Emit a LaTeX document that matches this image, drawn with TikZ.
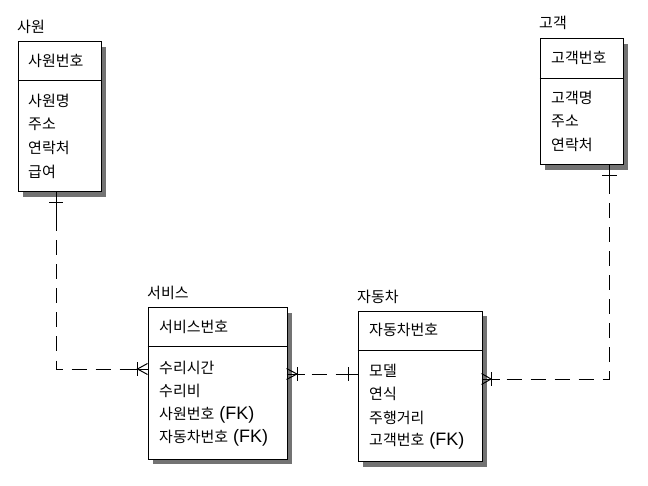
\documentclass[tikz,border=0pt]{standalone}
\usepackage{fontspec}
\setmainfont{Noto Sans CJK KR}
\newfontfamily\fkfont{Liberation Sans}
\usetikzlibrary{shadows}
\newcommand{\fk}{{\fkfont\fontsize{18}{18}\selectfont\ (FK)}}

\tikzset{
  entity/.style={draw, fill=white, line width=1pt, anchor=north west, inner sep=0pt,
    drop shadow={shadow xshift=5pt, shadow yshift=-5pt, fill=black!55, opacity=1}},
  txt/.style={anchor=west, inner sep=0pt, font=\fontsize{15}{15}\selectfont},
  rel/.style={line width=1pt, dash pattern=on 15pt off 9pt},
  endmark/.style={line width=1pt}
}

\begin{document}
\begin{tikzpicture}[x=1pt, y=-1pt]
  \useasboundingbox (0,0) rectangle (648,486);
  \node[entity, minimum width=83pt,  minimum height=150pt] (sawon)    at (17.5,41.5)  {};
  \node[entity, minimum width=83pt,  minimum height=126pt] (customer) at (539.5,38.5) {};
  \node[entity, minimum width=139pt, minimum height=151pt] (service)  at (147.5,307.5) {};
  \node[entity, minimum width=124pt, minimum height=150pt] (car)      at (357.5,311)  {};
  \draw[line width=1pt] (sawon.west |- 0,81) -- (sawon.east |- 0,81);
  \draw[line width=1pt] (customer.west |- 0,78.5) -- (customer.east |- 0,78.5);
  \draw[line width=1pt] (service.west |- 0,346.5) -- (service.east |- 0,346.5);
  \draw[line width=1pt] (car.west |- 0,350.5) -- (car.east |- 0,350.5);
  \node[txt] (sawon-t)  at (17,27)   {사원};
  \node[txt] (sawon-k)  at (28,61)   {사원번호};
  \node[txt] (sawon-a1) at (28,101)  {사원명};
  \node[txt] (sawon-a2) at (28,124.5) {주소};
  \node[txt] (sawon-a3) at (28,148)  {연락처};
  \node[txt] (sawon-a4) at (28,171.5) {급여};
  \node[txt] (customer-t)  at (539,23)  {고객};
  \node[txt] (customer-k)  at (551,58)  {고객번호};
  \node[txt] (customer-a1) at (551,98)  {고객명};
  \node[txt] (customer-a2) at (551,121.5) {주소};
  \node[txt] (customer-a3) at (551,145) {연락처};
  \node[txt] (service-t)  at (147,293)   {서비스};
  \node[txt] (service-k)  at (159,326.5) {서비스번호};
  \node[txt] (service-a1) at (159,367.5) {수리시간};
  \node[txt] (service-a2) at (159,391)   {수리비};
  \node[txt] (service-a3) at (159,414.5) {사원번호\fk};
  \node[txt] (service-a4) at (159,438)   {자동차번호\fk};
  \node[txt] (car-t)  at (357,297)   {자동차};
  \node[txt] (car-k)  at (369,330)   {자동차번호};
  \node[txt] (car-a1) at (369,370.5) {모델};
  \node[txt] (car-a2) at (369,394)   {연식};
  \node[txt] (car-a3) at (369,417.5) {주행거리};
  \node[txt] (car-a4) at (369,441)   {고객번호\fk};
  \draw[rel] (sawon.south -| 56,0) |- (service.west |- 0,369);
  \draw[rel] (service.east |- 0,374) -- (car.west |- 0,374);
  \draw[rel] (car.east |- 0,379) -| (customer.south -| 609.5,0);
  \draw[endmark] (56,191.5) -- (56,220);
  \draw[endmark] (49,203) -- (63,203);
  \draw[endmark] (129,369) -- (147.5,369);
  \draw[endmark] (137.5,362) -- (137.5,376);
  \draw[endmark] (147.5,363.5) -- (137.5,369) -- (147.5,374.5);
  \draw[endmark] (286.5,374) -- (305,374);
  \draw[endmark] (297,367) -- (297,381);
  \draw[endmark] (286.5,368.5) -- (297,374) -- (286.5,379.5);
  \draw[endmark] (339,374) -- (357.5,374);
  \draw[endmark] (348,367) -- (348,381);
  \draw[endmark] (481.5,379) -- (500,379);
  \draw[endmark] (491,372) -- (491,386);
  \draw[endmark] (481.5,373.5) -- (491,379) -- (481.5,384.5);
  \draw[endmark] (609.5,164.5) -- (609.5,188);
  \draw[endmark] (602,176) -- (617,176);
\end{tikzpicture}
\end{document}
